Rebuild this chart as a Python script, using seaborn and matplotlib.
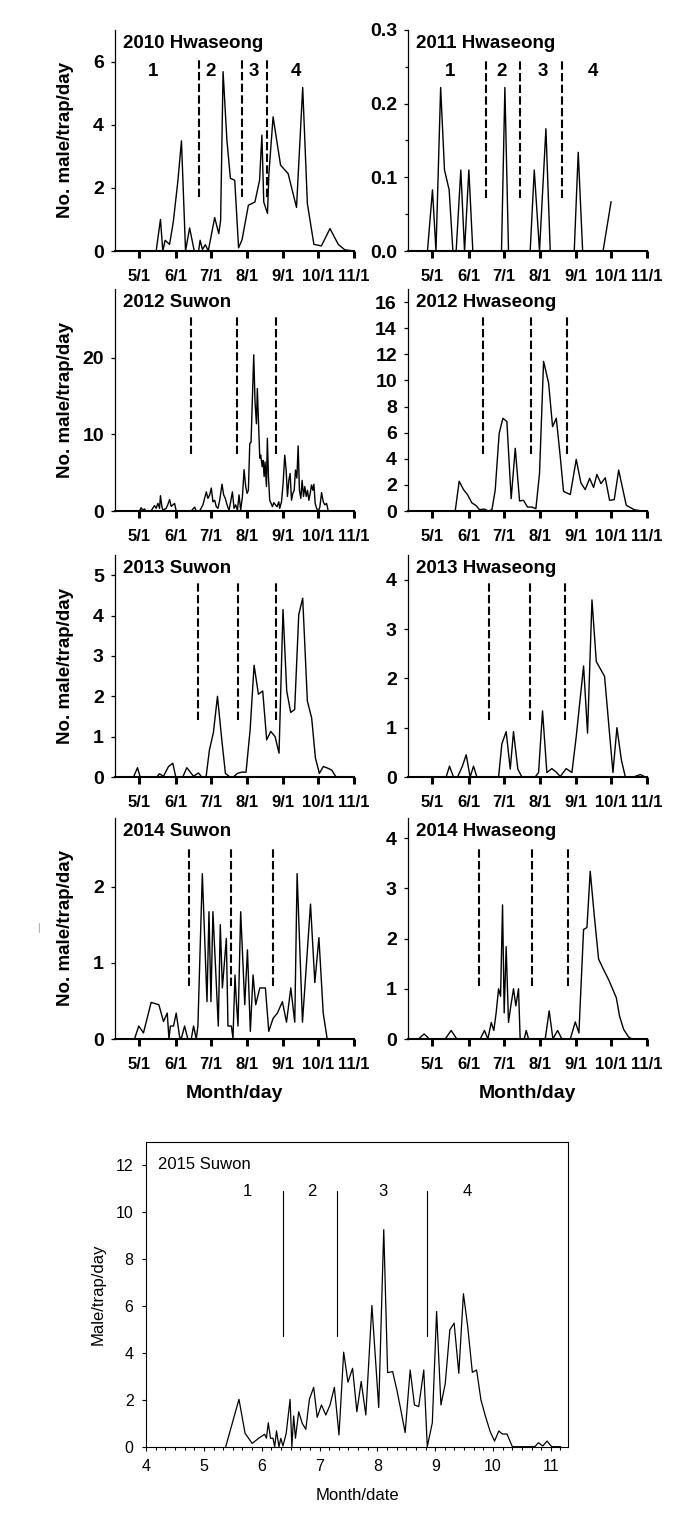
import matplotlib
matplotlib.use("Agg")
import matplotlib.pyplot as plt
from matplotlib.ticker import MultipleLocator, FormatStrFormatter
import seaborn as sns
import pandas as pd

sns.set_theme(style="ticks")
plt.rcParams["font.family"] = ["Liberation Sans", "DejaVu Sans"]
for k in ["axes.edgecolor", "xtick.color", "ytick.color", "text.color", "axes.labelcolor"]:
    plt.rcParams[k] = "black"

# ---------------- data (x = day of year, y = males/trap/day) ----------------
MONTH_DAYS = [121, 152, 182, 213, 244, 274, 305]
MONTH_LABELS = ["5/1", "6/1", "7/1", "8/1", "9/1", "10/1", "11/1"]

hw2010 = [(100, 0), (135.3, 0), (139, 1.0), (141, 0), (143, 0.34), (146.8, 0.21), (150, 0.92),
          (154, 2.24), (157, 3.49), (160.5, 0), (164, 0.73), (168, 0), (171.7, 0), (173, 0.34),
          (175, 0.05), (177.5, 0.2), (180, 0), (185.5, 1.06), (189, 0.55), (190.6, 0.97),
          (192.7, 5.68), (196, 3.5), (199, 2.3), (202.7, 2.24), (206, 0.1), (209, 0.36),
          (214.4, 1.45), (220, 1.55), (224, 2.24), (226, 3.67), (227.6, 1.55), (230.8, 1.19),
          (232, 2.45), (235.6, 4.25), (242, 2.72), (248.5, 2.45), (255.7, 1.38), (261, 5.18),
          (265, 1.5), (270.6, 0.21), (277, 0.16), (284.4, 0.71), (291.5, 0.21), (297, 0.04),
          (305, 0)]
hw2010_breaks = [171.7, 209.3, 230.8]

hw2011 = [(104, 0), (116.7, 0), (121, 0.083), (124, 0), (128, 0.222), (131.3, 0.11),
          (135.3, 0.083), (138.5, 0), (141.3, 0), (145.3, 0.11), (148.5, 0), (152.2, 0.11),
          (155.6, 0), (180.2, 0), (183.1, 0.222), (186.2, 0), (204.8, 0), (208.3, 0.11),
          (212.8, 0), (218.3, 0.166), (222, 0), (242.6, 0), (246, 0.134), (249.8, 0),
          (267.3, 0), (274.2, 0.067)]
hw2011_breaks = [166.8, 196.2, 232.0]

sw2012 = [(100, 0), (121, 0), (122.4, 0.43), (123.9, 0.1), (125.3, 0.26), (126.7, 0), (131, 0),
          (132.5, 0.4), (133.9, 0.7), (135.3, 0.35), (136.8, 1.0), (138.2, 0.35), (139, 2.0),
          (140.2, 0.6), (141, 0.1), (143.9, 0.35), (145.4, 0.87), (146.8, 1.5), (148.2, 0.6),
          (149.7, 0.8), (151.1, 1.0), (152.5, 0), (165.4, 0), (166.8, 0.26), (168.3, 0.5),
          (169.7, 0), (172.6, 0), (175.4, 0.8), (178.3, 2.5), (179.7, 1.65), (181.2, 2.1),
          (182.6, 3.0), (184, 1.2), (185.5, 1.4), (186.9, 0.56), (188.3, 0.35), (189.8, 1.4),
          (191.8, 3.5), (193.2, 2.1), (194.6, 1.65), (196.1, 0.8), (197.8, 0.1), (199.2, 1.2),
          (200.7, 2.5), (202.1, 0.35), (203.5, 0.8), (205, 0.1), (206.4, 2.1), (207.8, 0.1),
          (209.3, 1.9), (210.7, 5.4), (212.1, 3.2), (213.3, 2.3), (214.4, 2.7), (215.6, 8.8),
          (216.7, 9.0), (219, 20.4), (220.1, 14.3), (221.3, 11.4), (222.1, 16.0), (223.3, 10.6),
          (224.2, 6.9), (225, 7.3), (226.2, 5.8), (227, 6.6), (227.9, 4.5), (228.7, 6.4),
          (229.9, 3.2), (230.7, 9.5), (231.6, 4.5), (232.7, 1.4), (233.9, 1.0), (235, 0.56),
          (236.2, 1.1), (237.6, 0.8), (239, 0.56), (240.5, 1.2), (241.3, 0.35), (242.8, 1.2),
          (244.2, 3.6), (245.6, 7.3), (246.8, 5.35), (247.9, 1.9), (249.1, 4.0), (250.2, 4.9),
          (251.4, 1.4), (252.5, 2.3), (253.7, 2.7), (254.8, 5.35), (256, 4.3), (257.1, 8.5),
          (258.2, 2.7), (259.4, 1.65), (260.5, 4.0), (261.7, 1.9), (262.8, 3.2), (264, 1.9),
          (265.1, 2.7), (266.3, 1.4), (267.4, 2.3), (268.6, 3.4), (269.7, 2.7), (270.6, 3.5),
          (271.7, 1.0), (272.9, 0.35), (274.3, 0), (275.7, 0.5), (277.2, 2.4), (278.6, 1.2),
          (280, 0.8), (281.5, 1.0), (282.9, 0), (305, 0)]
sw2012_breaks = [165.0, 204.7, 238.1]

hw2012 = [(100.4, 0), (140.5, 0), (143.9, 2.28), (147.6, 1.64), (151, 1.26), (154.8, 0.62),
          (158.5, 0.41), (161.3, 0.1), (165.3, 0.15), (169, 0), (172, 0.1), (174.8, 1.6),
          (178.2, 5.95), (181.4, 7.1), (184.8, 6.85), (188.5, 0.95), (192, 4.8), (195.7, 0.77),
          (199.1, 0.82), (202.5, 0.3), (206.3, 0.3), (209.7, 0.18), (212.8, 2.87), (216.3, 11.46),
          (220.6, 9.8), (224, 6.46), (227.2, 7.1), (230.6, 4.15), (233.4, 1.5), (239.2, 1.26),
          (244.3, 3.95), (248.3, 2.15), (252, 1.64), (255.8, 2.5), (259.2, 1.8), (262, 2.8),
          (265.5, 2.1), (269.2, 2.54), (272.9, 0.82), (276.9, 0.87), (280.7, 3.13), (287.2, 0.44),
          (294.1, 0.1), (300.7, 0), (305, 0)]
hw2012_breaks = [164.2, 205.4, 236.3]

sw2013 = [(100, 0), (115.9, 0), (119.3, 0.23), (121.6, 0), (135.9, 0), (138.1, 0.08), (141.6, 0.02),
          (145.9, 0.26), (149.6, 0.34), (152.1, 0), (158.1, 0), (161.6, 0.23), (167.3, 0.02),
          (171.6, 0.1), (174.4, 0), (178.1, 0), (181, 0.67), (184.4, 1.1), (187.9, 2.0),
          (191.6, 0.92), (194.7, 0.09), (198.1, 0.01), (201.6, 0), (205, 0.09), (208.7, 0.12),
          (212.4, 0.12), (215.9, 1.17), (219.3, 2.77), (223, 2.05), (226.7, 2.13), (230.1, 0.92),
          (233.6, 1.13), (237.3, 1.0), (240.7, 0.59), (244.1, 4.15), (247.3, 2.13), (250.7, 1.6),
          (254.1, 1.67), (257.6, 4.02), (261, 4.43), (265, 1.88), (268.7, 1.46), (271.9, 0.47),
          (275.3, 0.09), (278.7, 0.26), (282.4, 0.22), (285.9, 0.17), (289.6, 0), (300, 0)]
sw2013_breaks = [171.0, 205.3, 238.1]

hw2013 = [(100.4, 0), (132.7, 0), (135.6, 0.22), (139, 0), (142.5, 0), (146.5, 0.21), (149.9, 0.45),
          (153.3, 0), (156.2, 0.22), (159.1, 0), (177.7, 0), (180.5, 0.67), (184.2, 0.92),
          (187.7, 0.16), (190.5, 0.92), (194.2, 0.16), (197.7, 0), (209.1, 0), (212, 0.09),
          (215.4, 1.34), (219.1, 0.09), (223.4, 0.17), (227.1, 0.1), (230.6, 0.01), (235.7, 0.17),
          (240.6, 0.09), (244.3, 0.82), (250.6, 2.25), (254, 0.89), (257.8, 3.59), (261.5, 2.34),
          (268.6, 2.04), (272.1, 1.09), (275.8, 0.09), (279.2, 1.0), (283, 0.35), (286.4, 0),
          (293.5, 0), (299.3, 0.05), (303.5, 0)]
hw2013_breaks = [169.6, 204.3, 234.9]

sw2014 = [(99.5, 0), (116.7, 0), (120.4, 0.17), (124.4, 0.08), (131, 0.48), (137.6, 0.45),
          (141.6, 0.23), (144.8, 0.34), (146.3, 0), (147.5, 0.17), (150.2, 0.17), (152.5, 0.34),
          (155.4, 0.03), (156.8, 0), (159.7, 0.17), (162.5, 0), (165.4, 0), (167.4, 0.17),
          (169.7, 0.0), (171.1, 0.17), (174.9, 2.17), (178.9, 0.49), (180.6, 1.67), (182.3, 0.49),
          (184, 1.67), (188.6, 0.17), (190.3, 1.5), (192.1, 0.67), (195.5, 1.32), (196.9, 0.17),
          (199.8, 0.17), (201.2, 0.01), (202.9, 0.84), (204.1, 0.49), (205.5, 0.17), (207.8, 1.67),
          (211.3, 0.45), (213.6, 1.17), (216.1, 0.1), (218.4, 0.84), (220.7, 0.45), (224.2, 0.67),
          (229, 0.67), (231.9, 0.1), (235.6, 0.27), (239.3, 0.34), (243.6, 0.49), (247.1, 0.22),
          (250.8, 0.67), (254.2, 0.22), (256.2, 2.17), (260.8, 0.22), (267.7, 1.77), (271.4, 0.74),
          (274.9, 1.33), (278.6, 0.34), (282, 0), (294.4, 0)]
sw2014_breaks = [163.1, 199.8, 235.6]

hw2014 = [(100.4, 0), (109, 0), (113.8, 0.1), (118.4, 0), (131.9, 0), (137, 0.17), (141.9, 0),
          (161.9, 0), (165.6, 0.17), (168.5, 0), (171.4, 0.33), (173.6, 0.17), (175.6, 0.52),
          (177.7, 1.0), (179.4, 0.85), (181.1, 2.67), (182.5, 0.52), (184.2, 1.84), (186.2, 0.33),
          (188.2, 0.66), (190.5, 1.0), (192.5, 0.66), (194.8, 1.0), (196.2, 0), (199.7, 0),
          (201.4, 0.17), (203.4, 0), (217.7, 0), (221.1, 0.56), (224.3, 0), (228.3, 0.17), (232, 0),
          (239.2, 0), (243.5, 0.34), (246.6, 0.12), (250.6, 2.18), (253.5, 2.22), (256.3, 3.34),
          (259.8, 2.45), (263.5, 1.59), (267.8, 1.38), (272.1, 1.18), (275.8, 0.98), (278.7, 0.82),
          (281.5, 0.45), (285, 0.19), (289.2, 0.04), (292.1, 0)]
hw2014_breaks = [161.1, 206.3, 237.2]

# 2015 Suwon: x = month (fractional)
sw2015 = [(5.377, 0), (5.606, 2.02), (5.712, 0.57), (5.835, 0.14), (5.946, 0.36), (6.05, 0.53),
          (6.081, 0.36), (6.113, 1.02), (6.151, 0.36), (6.194, 0.36), (6.224, 0), (6.255, 0.68),
          (6.298, 0), (6.33, 0.36), (6.367, 0.03), (6.423, 0.57), (6.49, 2.02), (6.521, 0),
          (6.552, 1.31), (6.583, 0.36), (6.639, 1.49), (6.7, 1.0), (6.762, 0.74), (6.824, 2.02),
          (6.898, 2.53), (6.959, 1.25), (7.033, 1.78), (7.108, 1.35), (7.181, 1.78), (7.256, 2.53),
          (7.336, 0.5), (7.417, 4.03), (7.491, 2.75), (7.571, 3.34), (7.645, 1.49), (7.72, 2.78),
          (7.8, 1.35), (7.905, 6.02), (8.023, 1.67), (8.11, 9.25), (8.177, 3.16), (8.264, 3.2),
          (8.343, 2.35), (8.405, 1.57), (8.48, 0.6), (8.567, 3.27), (8.641, 1.78), (8.715, 1.71),
          (8.802, 3.27), (8.863, 0), (8.95, 1.02), (9.024, 5.76), (9.099, 1.78), (9.173, 2.68),
          (9.253, 4.98), (9.327, 5.27), (9.408, 3.13), (9.488, 6.52), (9.562, 5.12), (9.642, 3.17),
          (9.716, 3.27), (9.791, 1.99), (9.871, 1.28), (9.951, 0.64), (10.026, 0.24), (10.1, 0.67),
          (10.161, 0.54), (10.242, 0.54), (10.334, 0), (10.723, 0), (10.785, 0.17), (10.86, 0.03),
          (10.934, 0.24), (11.014, 0), (11.17, 0)]
sw2015_breaks = [6.36, 7.30, 8.85]
sw2015_ticks = [4, 5, 6, 7, 8, 9, 10, 11]
PERIODS = ["1", "2", "3", "4"]

# ---------------- figure ----------------
W, H = 687, 1513
fig = plt.figure(figsize=(W / 100, H / 100), dpi=100)


def px_axes(l, t, r, b):
    return fig.add_axes([l / W, 1 - b / H, (r - l) / W, (b - t) / H])


def line(ax, pairs, lw=1.0):
    df = pd.DataFrame(pairs, columns=["x", "y"])
    sns.lineplot(data=df, x="x", y="y", ax=ax, color="black", linewidth=lw,
                 estimator=None, sort=False, legend=False)
    ax.set_xlabel("")
    ax.set_ylabel("")


panels = [
    (hw2010, "2010 Hwaseong", (115, 30, 354, 251), 7.0, [0, 2, 4, 6], "%d", hw2010_breaks, 1.71, 6.1,
     ([133, 181.8, 219, 255], 5.7)),
    (hw2011, "2011 Hwaseong", (408, 30, 647, 251), 0.3, [0, 0.1, 0.2, 0.3], "%.1f", hw2011_breaks, 0.072, 0.261,
     ([136.2, 180.2, 215.4, 258.3], 0.244)),
    (sw2012, "2012 Suwon", (115, 289, 354, 511), 29, [0, 10, 20], "%d", sw2012_breaks, 7.4, 25.6, None),
    (hw2012, "2012 Hwaseong", (408, 289, 647, 511), 17, list(range(0, 17, 2)), "%d", hw2012_breaks, 4.36, 15.05, None),
    (sw2013, "2013 Suwon", (115, 555, 354, 777), 5.5, [0, 1, 2, 3, 4, 5], "%d", sw2013_breaks, 1.42, 4.88, None),
    (hw2013, "2013 Hwaseong", (408, 555, 647, 777), 4.5, [0, 1, 2, 3, 4], "%d", hw2013_breaks, 1.16, 3.97, None),
    (sw2014, "2014 Suwon", (115, 818, 354, 1039), 2.9, [0, 1, 2], "%d", sw2014_breaks, 0.69, 2.51, None),
    (hw2014, "2014 Hwaseong", (408, 818, 647, 1039), 4.4, [0, 1, 2, 3, 4], "%d", hw2014_breaks, 1.05, 3.83, None),
]

for i, (pairs, title, box, ytop, yt, fmt, brk, lo, hi, nums) in enumerate(panels):
    ax = px_axes(*box)
    line(ax, pairs, lw=1.0)
    for d in brk:
        ax.plot([d, d], [lo, hi], color="black", lw=1.5, ls=(0, (4, 1.6)))
    ax.set_xlim(100, 305)
    ax.set_ylim(0, ytop)
    sns.despine(ax=ax)
    ax.spines["bottom"].set_linewidth(1.5)
    ax.spines["left"].set_linewidth(0.9)
    ax.set_xticks(MONTH_DAYS)
    ax.set_xticklabels(MONTH_LABELS, fontweight="bold")
    ax.tick_params(axis="x", direction="out", length=5, width=2.2, labelsize=12, pad=8)
    ax.set_yticks(yt)
    ax.yaxis.set_major_formatter(FormatStrFormatter(fmt))
    for t in ax.get_yticklabels():
        t.set_fontweight("bold")
    ax.tick_params(axis="y", direction="out", length=3, width=0.9, labelsize=14, pad=5)
    if title.startswith("2011"):
        ax.yaxis.set_minor_locator(MultipleLocator(0.05))
        ax.tick_params(axis="y", which="minor", direction="out", length=2, width=0.9)
    ax.text(0.033, 0.94, title, transform=ax.transAxes, fontsize=13.5, fontweight="bold",
            ha="left", va="center")
    if nums is not None:
        for xs, lab in zip(nums[0], PERIODS):
            ax.text(xs, nums[1], lab, fontsize=13.5, fontweight="bold", ha="center", va="center")
    if i % 2 == 0:
        ax.set_ylabel("No. male/trap/day", fontsize=13.5, fontweight="bold")
        ax.yaxis.set_label_coords(-0.172, 0.5)
    if i >= 6:
        ax.set_xlabel("Month/day", fontsize=14, fontweight="bold")
        ax.xaxis.set_label_coords(0.5, -0.208)

# small stray mark left of 2014 Suwon panel
fig.text(38 / W, 1 - 928 / H, "|", fontsize=7, color="#888888", ha="center", va="center")

# ---------------- 2015 Suwon ----------------
ax = px_axes(146.1, 1141.7, 568.2, 1446.7)
line(ax, sw2015, lw=0.9)
for m in sw2015_breaks:
    ax.plot([m, m], [4.70, 10.92], color="black", lw=0.8)
ax.set_xlim(4, 11.3)
ax.set_ylim(0, 13)
for s in ax.spines.values():
    s.set_linewidth(0.8)
ax.set_xticks(sw2015_ticks)
ax.set_xticklabels([str(v) for v in sw2015_ticks])
ax.xaxis.set_minor_locator(MultipleLocator(1 / 6))
ax.set_yticks(list(range(0, 13, 2)))
ax.tick_params(axis="both", which="major", direction="out", length=3, width=0.8, labelsize=11.5, pad=6)
ax.tick_params(axis="x", which="minor", direction="out", length=2.5, width=0.8)
ax.text(0.028, 0.926, "2015 Suwon", transform=ax.transAxes, fontsize=12, ha="left", va="center")
for xs, lab in zip([5.76, 6.86, 8.09, 9.55], PERIODS):
    ax.text(xs, 10.86, lab, fontsize=12, ha="center", va="center")
ax.set_ylabel("Male/trap/day", fontsize=12)
ax.yaxis.set_label_coords(-0.097, 0.5)
ax.set_xlabel("Month/date", fontsize=12)
ax.xaxis.set_label_coords(0.5, -0.136)

fig.savefig("out.png", dpi=100, facecolor="white")
